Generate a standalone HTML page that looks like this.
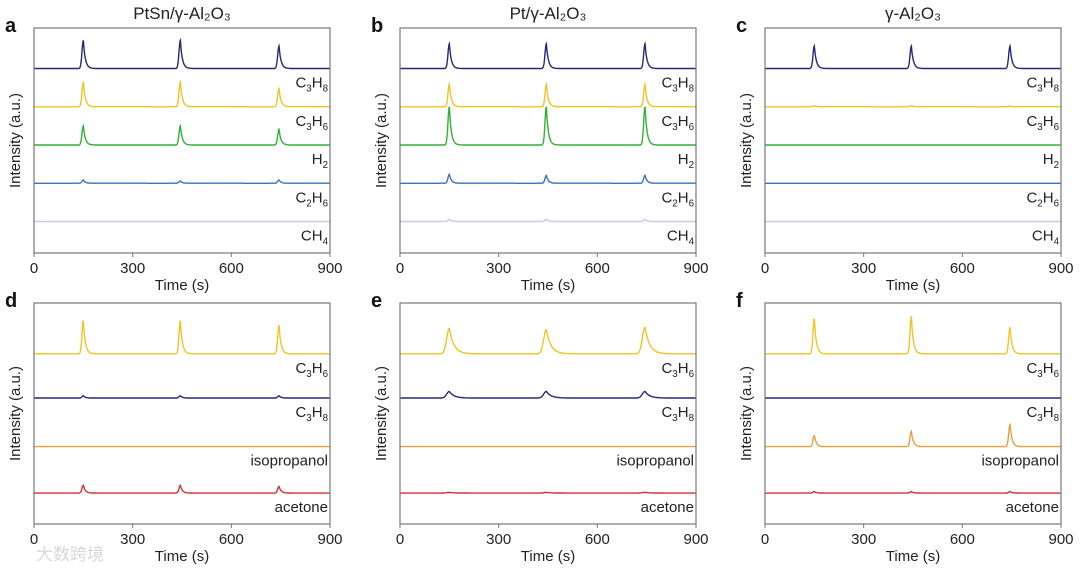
<!DOCTYPE html>
<html><head><meta charset="utf-8"><style>
body{margin:0;background:#fff;width:1080px;height:570px;overflow:hidden}
svg{font-family:"Liberation Sans","Noto Sans CJK SC",sans-serif}
</style></head><body>
<svg id="fig" width="1080" height="570"></svg>
<script>
const panelLetters=["a","b","c","d","e","f"];
const panelTitles=["PtSn/γ-Al₂O₃","Pt/γ-Al₂O₃","γ-Al₂O₃"];
const xTicks=[0,300,600,900];
const peakTimes=[150,445,745];
const topLabels=["C3H8","C3H6","H2","C2H6","CH4"];
const topBaselines=[82,65,48,31,14];
const topColors=["#26287a","#f0c425","#33b03a","#3a72c0","#c9c9e6"];
const topPeaksA=[[12.5,12.5,10],[11,11,8],[8.5,8.5,7],[1.5,1,1.5],[0,0,0]];
const topPeaksB=[[11,11,11],[10,10,10],[17,17,17],[4,3.5,3.5],[1,1,1]];
const topPeaksC=[[10,10,10],[0.5,0.5,0.3],[0,0,0],[0,0,0],[0,0,0]];
const botLabels=["C3H6","C3H8","isopropanol","acetone"];
const botBaselines=[77,57,35,14];
const botColors=["#f0c425","#26287a","#e8a040","#d63035"];
const botPeaksD=[[15,15,13],[1,1,1],[0,0,0],[3.5,3.5,3]];
const botPeaksE=[[11.5,11,12],[3,3,3],[0,0,0],[0.3,0.3,0.3]];
const botPeaksF=[[16,17,12],[0,0,0],[5,7,10],[0.7,0.7,0.7]];
const panelPeaks=[topPeaksA,topPeaksB,topPeaksC,botPeaksD,botPeaksE,botPeaksF];
const panelWidths=[[4,6],[4,6],[4,6],[4,6],[8,14],[4,6]];

const svg=document.getElementById('fig');
const NS="http://www.w3.org/2000/svg";
function mk(tag,attrs,parent){const e=document.createElementNS(NS,tag);for(const k in attrs)e.setAttribute(k,attrs[k]);(parent||svg).appendChild(e);return e;}
function subText(t,x,y,size,anchor,parent){
  const el=mk('text',{x:x,y:y,'font-size':size,'text-anchor':anchor,fill:'#222'},parent);
  if(!/\d/.test(t)){el.textContent=t;return el;}
  const parts=t.split(/(\d)/).filter(s=>s);
  let down=false;
  parts.forEach(p=>{const ts=document.createElementNS(NS,'tspan');ts.textContent=p;
    if(/\d/.test(p)){ts.setAttribute('font-size',size*0.65);ts.setAttribute('dy',4);down=true;}
    else if(down){ts.setAttribute('dy',-4);down=false;}
    el.appendChild(ts);});
  return el;
}
const cols=[34,400,765], W=296;
for(let p=0;p<6;p++){
  const row=p<3?0:1, c=p%3;
  const x0=cols[c], y0=row?303:28, H=row?221:225;
  const xs=t=>x0+t/900*W, ys=v=>y0+H-v/100*H;
  const g=mk('g',{});
  
  
  const lt=mk('text',{x:x0-29,y:y0+4,'font-size':20,'font-weight':'bold',fill:'#111'},g);lt.textContent=panelLetters[p];
  
  if(row===0){const tt=mk('text',{x:x0+W/2,y:19,'font-size':17,'text-anchor':'middle',fill:'#222'},g);tt.textContent=panelTitles[c];
    }
  const labels=row?botLabels:topLabels, bases=row?botBaselines:topBaselines, colors=row?botColors:topColors;
  const peaks=panelPeaks[p], [sg,tau]=panelWidths[p];
  labels.forEach((lab,i)=>{
    let d='';
    for(let t=0;t<=900;t+=1){
      let v=bases[i];
      peakTimes.forEach((pt,k)=>{const h=peaks[i][k];const dt=t-pt;
        v+=h*(dt<0?Math.exp(-dt*dt/(2*sg*sg)):Math.exp(-dt/tau));});
      d+=(t?'L':'M')+xs(t).toFixed(1)+','+ys(v).toFixed(1);
    }
    const path=mk('path',{d:d,fill:'none',stroke:colors[i],'stroke-width':1.4},g);
    
    
    const tl=subText(lab,x0+W-2,ys(bases[i])+19,15,'end',g);
    
  });
  const fr=mk('rect',{x:x0,y:y0,width:W,height:H,fill:'none',stroke:'#777','stroke-width':1.2},g);
  
  xTicks.forEach(t=>{
    mk('line',{x1:xs(t),x2:xs(t),y1:y0+H,y2:y0+H+4,stroke:'#777'},g);
    const tx=mk('text',{x:xs(t),y:y0+H+20,'font-size':15,'text-anchor':'middle',fill:'#222'},g);tx.textContent=t;
    
  });
  const xt=mk('text',{x:x0+W/2,y:y0+H+37,'font-size':15,'text-anchor':'middle',fill:'#222'},g);xt.textContent='Time (s)';
  
  const yt=mk('text',{x:0,y:0,'font-size':15,'text-anchor':'middle',fill:'#222',transform:`translate(${x0-14},${y0+H/2}) rotate(-90)`},g);yt.textContent='Intensity (a.u.)';
  
}
const wm=mk('text',{x:36,y:560,'font-size':17,fill:'#d8d8d8'});wm.textContent='大数跨境';

</script>
</body></html>
